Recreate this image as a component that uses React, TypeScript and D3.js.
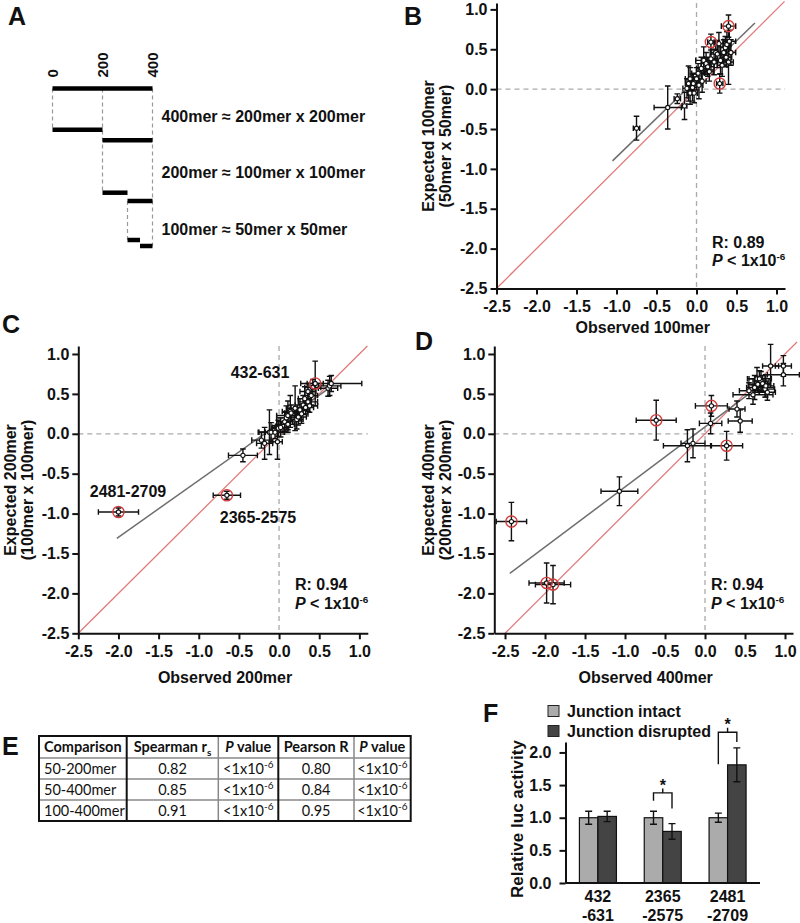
import { useEffect, useRef } from "react";
import * as d3 from "d3";

const FONT = "'Liberation Sans', Arial, Helvetica, sans-serif";
const TABLE_FONT = "Lato, 'Open Sans', sans-serif";

// ---------- A: fragment map ----------
const rulerTicks = [0, 200, 400];
const fragments: [number, number][] = [
  [0, 400], [0, 200], [200, 400], [200, 300], [300, 400], [300, 350], [350, 400],
];
const equations = ["400mer ≈ 200mer x 200mer", "200mer ≈ 100mer x 100mer", "100mer ≈ 50mer x 50mer"];

// ---------- B / C / D: [observed, expected, xErr, yErr] ----------
const bPoints = [
  [-0.75, -0.49, 0.04, 0.15], [-0.36, -0.23, 0.17, 0.27], [-0.24, -0.12, 0.04, 0.06],
  [-0.15, -0.21, 0.03, 0.17], [-0.12, 0.01, 0.05, 0.12], [-0.1, 0.07, 0.04, 0.22],
  [-0.08, 0.13, 0.06, 0.14], [-0.08, -0.05, 0.03, 0.14], [-0.05, 0.02, 0.05, 0.17],
  [-0.04, 0.07, 0.04, 0.12], [-0.03, -0.05, 0.04, 0.12], [0.0, 0.13, 0.07, 0.14],
  [0.02, 0.2, 0.08, 0.12], [0.03, 0.05, 0.05, 0.17], [0.06, 0.26, 0.06, 0.14],
  [0.07, 0.1, 0.05, 0.14], [0.09, 0.36, 0.1, 0.17], [0.12, 0.32, 0.06, 0.14],
  [0.14, 0.28, 0.08, 0.12], [0.16, 0.22, 0.05, 0.12], [0.18, 0.38, 0.08, 0.14],
  [0.22, 0.34, 0.08, 0.16], [0.24, 0.46, 0.06, 0.14], [0.26, 0.44, 0.09, 0.17],
  [0.28, 0.57, 0.06, 0.14], [0.3, 0.36, 0.07, 0.17], [0.32, 0.3, 0.06, 0.14],
  [0.34, 0.46, 0.07, 0.16], [0.36, 0.52, 0.06, 0.14], [0.38, 0.56, 0.05, 0.16],
  [0.4, 0.34, 0.06, 0.28], [0.41, 0.6, 0.08, 0.14], [0.43, 0.46, 0.06, 0.16],
  [0.37, 0.4, 0.07, 0.12],
];
const bOutliers = [[0.18, 0.59, 0.04, 0.1], [0.4, 0.79, 0.09, 0.14], [0.29, 0.07, 0.04, 0.12]];
const bFit = [[-1.05, -0.9], [0.73, 0.83]];

const cPoints = [
  [-0.45, -0.27, 0.18, 0.08], [-0.22, -0.08, 0.12, 0.1], [-0.18, -0.12, 0.1, 0.2],
  [-0.12, 0.02, 0.14, 0.28], [-0.1, 0.02, 0.15, 0.12], [-0.05, 0.02, 0.12, 0.08],
  [-0.02, -0.1, 0.06, 0.22], [-0.01, 0.07, 0.08, 0.1], [0.02, 0.08, 0.1, 0.12],
  [0.07, 0.15, 0.1, 0.12], [0.09, 0.2, 0.12, 0.15], [0.11, 0.12, 0.08, 0.1],
  [0.11, 0.23, 0.14, 0.18], [0.14, 0.28, 0.1, 0.2], [0.15, 0.26, 0.08, 0.1],
  [0.2, 0.32, 0.1, 0.28], [0.22, 0.18, 0.08, 0.12], [0.24, 0.21, 0.1, 0.1],
  [0.26, 0.3, 0.12, 0.14], [0.28, 0.25, 0.08, 0.12], [0.3, 0.36, 0.1, 0.12],
  [0.32, 0.44, 0.08, 0.15], [0.33, 0.33, 0.1, 0.08], [0.36, 0.4, 0.12, 0.12],
  [0.36, 0.53, 0.1, 0.1], [0.38, 0.35, 0.1, 0.08], [0.4, 0.48, 0.08, 0.12],
  [0.42, 0.58, 0.1, 0.1], [0.61, 0.57, 0.12, 0.1], [0.63, 0.6, 0.14, 0.12],
  [0.65, 0.63, 0.38, 0.1],
];
const cOutliers = [[-2.0, -0.98, 0.25, 0.05], [-0.65, -0.77, 0.17, 0.05], [0.45, 0.63, 0.1, 0.28]];
const cFit = [[-2.02, -1.31], [0.62, 0.57]];
const cLabels = ["432-631", "2481-2709", "2365-2575"];

const dPoints = [
  [-1.07, -0.72, 0.23, 0.18], [-0.22, -0.15, 0.3, 0.2], [-0.15, -0.12, 0.15, 0.18],
  [0.07, 0.13, 0.14, 0.13], [0.4, 0.31, 0.1, 0.1], [0.44, 0.16, 0.15, 0.14],
  [0.55, 0.54, 0.12, 0.1], [0.6, 0.49, 0.25, 0.12], [0.62, 0.58, 0.1, 0.15],
  [0.65, 0.69, 0.1, 0.14], [0.66, 0.62, 0.12, 0.1], [0.7, 0.66, 0.1, 0.12],
  [0.72, 0.63, 0.1, 0.1], [0.75, 0.56, 0.12, 0.1], [0.76, 0.6, 0.1, 0.14],
  [0.78, 0.52, 0.1, 0.1], [0.82, 0.85, 0.1, 0.27], [0.98, 0.85, 0.1, 0.13],
  [0.98, 0.74, 0.2, 0.14], [0.68, 0.69, 0.15, 0.1],
];
const dOutliers = [
  [-2.42, -1.1, 0.19, 0.24], [-1.98, -1.87, 0.22, 0.25], [-1.9, -1.89, 0.22, 0.24],
  [-0.61, 0.17, 0.25, 0.25], [0.08, 0.35, 0.2, 0.13], [0.27, -0.15, 0.2, 0.18],
];
const dFit = [[-2.44, -1.75], [0.55, 0.5]];

const scatterTicks = [-2.5, -2, -1.5, -1, -0.5, 0, 0.5, 1];

// ---------- E: table ----------
const comparisons = ["50-200mer", "50-400mer", "100-400mer"];
const spearman = ["0.82", "0.85", "0.91"];
const pearson = ["0.80", "0.84", "0.95"];

// ---------- F: luciferase ----------
const fGroups = [["432", "-631"], ["2365", "-2575"], ["2481", "-2709"]];
const intact = [1.0, 1.0, 1.0];
const intactErr = [0.1, 0.1, 0.07];
const disrupted = [1.02, 0.79, 1.81];
const disruptedErr = [0.08, 0.12, 0.26];
const fTicks = [0, 0.5, 1, 1.5, 2];
const brackets = [
  { group: 1, top: 1.38, left: 1.26, right: 1.14 },
  { group: 2, top: 2.31, left: 1.82, right: 2.16 },
];
const legendLabels = ["Junction intact", "Junction disrupted"];

const bold = (s: any, size = 16) =>
  s.attr("font-family", FONT).attr("font-weight", "bold").attr("font-size", size).attr("fill", "#111");

function pValue(g: any, x: number, y: number, prefix = " < 1x10", size = 16) {
  const t = bold(g.append("text"), size).attr("x", x).attr("y", y);
  t.append("tspan").attr("font-style", "italic").text("P");
  t.append("tspan").text(prefix);
  t.append("tspan").attr("dy", -6).attr("font-size", size * 0.62).text("-6");
  return t;
}

function scatter(svg: any, cfg: any) {
  const x = d3.scaleLinear().domain(cfg.xDomain).range(cfg.xRange);
  const y = d3.scaleLinear().domain(cfg.yDomain).range(cfg.yRange);
  const g = svg.append("g");
  const [x0, x1] = cfg.xDomain;
  const [y0, y1] = cfg.yDomain;

  g.append("line").attr("x1", x(0)).attr("x2", x(0)).attr("y1", y(y1)).attr("y2", y(y0))
    .attr("stroke", "#aaa").attr("stroke-width", 1.3).attr("stroke-dasharray", "5,4");
  g.append("line").attr("x1", x(x0)).attr("x2", x(x1)).attr("y1", y(0)).attr("y2", y(0))
    .attr("stroke", "#aaa").attr("stroke-width", 1.3).attr("stroke-dasharray", "5,4");

  // identity line
  g.append("line").attr("x1", x(-2.5)).attr("y1", y(-2.5)).attr("x2", x(cfg.idEnd)).attr("y2", y(cfg.idEnd))
    .attr("stroke", "#e07a7a").attr("stroke-width", 1.3);
  // regression line
  g.append("line").attr("x1", x(cfg.fit[0][0])).attr("y1", y(cfg.fit[0][1]))
    .attr("x2", x(cfg.fit[1][0])).attr("y2", y(cfg.fit[1][1]))
    .attr("stroke", "#6e6e6e").attr("stroke-width", 1.5);

  const all = cfg.points.concat(cfg.outliers);
  const c = 2.8;
  g.append("g").selectAll("path").data(all).join("path")
    .attr("d", (d: number[]) => {
      const cx = x(d[0]), cy = y(d[1]);
      const xa = x(d[0] - d[2]), xb = x(d[0] + d[2]);
      const ya = y(d[1] - d[3]), yb = y(d[1] + d[3]);
      return `M${xa},${cy}H${xb}M${xa},${cy - c}V${cy + c}M${xb},${cy - c}V${cy + c}` +
        `M${cx},${ya}V${yb}M${cx - c},${ya}H${cx + c}M${cx - c},${yb}H${cx + c}`;
    })
    .attr("fill", "none").attr("stroke", "#111").attr("stroke-width", 1.4);
  g.append("g").selectAll("circle").data(all).join("circle")
    .attr("cx", (d: number[]) => x(d[0])).attr("cy", (d: number[]) => y(d[1])).attr("r", 2.1)
    .attr("fill", "#fff").attr("stroke", "#111").attr("stroke-width", 1.1);
  g.append("g").selectAll("circle").data(cfg.outliers).join("circle")
    .attr("cx", (d: number[]) => x(d[0])).attr("cy", (d: number[]) => y(d[1])).attr("r", 5.6)
    .attr("fill", "none").attr("stroke", "#d23b3b").attr("stroke-width", 1.4);

  const fmt = (d: number) => d.toFixed(1);
  const xa = g.append("g").attr("transform", `translate(0,${y(y0)})`)
    .call(d3.axisBottom(x).tickValues(scatterTicks).tickFormat(fmt as any).tickSize(6).tickSizeOuter(0).tickPadding(6));
  const ya = g.append("g").attr("transform", `translate(${x(x0)},0)`)
    .call(d3.axisLeft(y).tickValues(scatterTicks).tickFormat(fmt as any).tickSize(6).tickSizeOuter(0).tickPadding(3));
  [xa, ya].forEach((a) => {
    a.select(".domain").attr("stroke", "#111").attr("stroke-width", 2);
    a.selectAll(".tick line").attr("stroke", "#111").attr("stroke-width", 2);
    bold(a.selectAll(".tick text"), 16).attr("font-family", FONT);
  });

  // axis titles
  const xc = (cfg.xRange[0] + cfg.xRange[1]) / 2 + 2;
  bold(g.append("text"), 16).attr("x", xc).attr("y", cfg.xTitleY).attr("text-anchor", "middle").text(cfg.xTitle);
  cfg.yTitle.forEach((t: string, i: number) => {
    bold(g.append("text"), 16).attr("text-anchor", "middle").attr("dominant-baseline", "central")
      .attr("transform", `translate(${cfg.yTitleX[i]},${cfg.yTitleY}) rotate(-90)`).text(t);
  });

  // stats
  bold(g.append("text"), 16).attr("x", cfg.statX).attr("y", cfg.statY).text(cfg.r);
  pValue(g, cfg.statX, cfg.statY + 18.5);

  bold(g.append("text"), 25).attr("x", cfg.letter[0]).attr("y", cfg.letter[1]).text(cfg.letter[2]);
  return { x, y, g };
}

export default function App() {
  const ref = useRef<SVGSVGElement>(null);

  useEffect(() => {
    const svg = d3.select(ref.current);
    svg.selectAll("*").remove();

    // ===== A =====
    bold(svg.append("text"), 25).attr("x", 8).attr("y", 25).text("A");
    const ax = d3.scaleLinear().domain([0, 400]).range([52.5, 152.5]);
    const rowY = [88.5, 129.7, 140.3, 192.7, 201, 240, 246];
    rulerTicks.forEach((t) => {
      bold(svg.append("text"), 15).attr("text-anchor", "start").attr("dominant-baseline", "central")
        .attr("transform", `translate(${ax(t)},77.5) rotate(-90)`).text(String(t));
    });
    const guides: [number, number, number][] = [[0, 0, 1], [200, 0, 3], [400, 0, 6], [300, 4, 5]];
    svg.append("g").selectAll("line").data(guides).join("line")
      .attr("x1", (d) => ax(d[0])).attr("x2", (d) => ax(d[0]))
      .attr("y1", (d) => rowY[d[1]]).attr("y2", (d) => rowY[d[2]])
      .attr("stroke", "#999").attr("stroke-width", 1.2).attr("stroke-dasharray", "4,3");
    svg.append("g").selectAll("line").data(fragments).join("line")
      .attr("x1", (d) => ax(d[0])).attr("x2", (d) => ax(d[1]))
      .attr("y1", (_, i) => rowY[i]).attr("y2", (_, i) => rowY[i])
      .attr("stroke", "#000").attr("stroke-width", 4.5);
    const eqY = [116, 172.7, 229.3];
    equations.forEach((e, i) => {
      bold(svg.append("text"), 16).attr("x", 161.5).attr("y", eqY[i] + 5.7).text(e);
    });

    // ===== B =====
    scatter(svg, {
      xDomain: [-2.5, 1.106], xRange: [496.5, 785], yDomain: [-2.5, 1.08], yRange: [288.5, 3],
      idEnd: 1.1, fit: bFit, points: bPoints, outliers: bOutliers,
      xTitle: "Observed 100mer", xTitleY: 333, yTitle: ["Expected 100mer", "(50mer x 50mer)"],
      yTitleX: [428, 445], yTitleY: 146, statX: 712, statY: 247.5, r: "R: 0.89",
      letter: [404, 24.5, "B"],
    });

    // ===== C =====
    const C = scatter(svg, {
      xDomain: [-2.5, 1.105], xRange: [78.3, 367.8], yDomain: [-2.5, 1.1], yRange: [633.3, 346],
      idEnd: 1.1, fit: cFit, points: cPoints, outliers: cOutliers,
      xTitle: "Observed 200mer", xTitleY: 682.5, yTitle: ["Expected 200mer", "(100mer x 100mer)"],
      yTitleX: [10, 27], yTitleY: 490, statX: 295, statY: 590, r: "R: 0.94",
      letter: [2, 333, "C"],
    });
    const labelPos = [[260, 378], [128, 496.5], [258, 522.5]];
    cLabels.forEach((t, i) => {
      bold(C.g.append("text"), 16).attr("x", labelPos[i][0]).attr("y", labelPos[i][1])
        .attr("text-anchor", "middle").text(t);
    });

    // ===== D =====
    scatter(svg, {
      xDomain: [-2.634, 1.1], xRange: [494.3, 793], yDomain: [-2.5, 1.1], yRange: [633.3, 346],
      idEnd: 1.15, fit: dFit, points: dPoints, outliers: dOutliers,
      xTitle: "Observed 400mer", xTitleY: 682.5, yTitle: ["Expected 400mer", "(200mer x 200mer)"],
      yTitleX: [428, 445], yTitleY: 490, statX: 711, statY: 590, r: "R: 0.94",
      letter: [415, 350, "D"],
    });

    // ===== E =====
    bold(svg.append("text"), 25).attr("x", 2).attr("y", 755).text("E");
    const colX = [39, 126.7, 218.3, 278.3, 354, 410.7];
    const rowYs = [736, 758, 779, 800, 821];
    const tg = svg.append("g").attr("font-family", TABLE_FONT).attr("font-size", 14.5).attr("fill", "#111");
    const cx = (i: number) => (colX[i] + colX[i + 1]) / 2;
    const cy = (r: number) => (rowYs[r] + rowYs[r + 1]) / 2 + 5;
    // header
    const head = (i: number) => tg.append("text").attr("x", cx(i)).attr("y", cy(0)).attr("text-anchor", "middle").attr("font-weight", "bold");
    head(0).text("Comparison");
    const sp = head(1);
    sp.append("tspan").text("Spearman r");
    sp.append("tspan").attr("dy", 4).attr("font-size", 10).text("s");
    [2, 4].forEach((i) => {
      const t = head(i);
      t.append("tspan").attr("font-style", "italic").text("P");
      t.append("tspan").text(" value");
    });
    head(3).text("Pearson R");
    comparisons.forEach((c, r) => {
      tg.append("text").attr("x", colX[0] + 5).attr("y", cy(r + 1)).text(c);
      tg.append("text").attr("x", cx(1)).attr("y", cy(r + 1)).attr("text-anchor", "middle").text(spearman[r]);
      tg.append("text").attr("x", cx(3)).attr("y", cy(r + 1)).attr("text-anchor", "middle").text(pearson[r]);
      [2, 4].forEach((i) => {
        const t = tg.append("text").attr("x", cx(i)).attr("y", cy(r + 1)).attr("text-anchor", "middle");
        t.append("tspan").text("<1x10");
        t.append("tspan").attr("dy", -6).attr("font-size", 10).text("-6");
      });
    });
    rowYs.slice(1, -1).forEach((yy) => {
      svg.append("line").attr("x1", colX[0]).attr("x2", colX[5]).attr("y1", yy).attr("y2", yy)
        .attr("stroke", "#888").attr("stroke-width", 1.3);
    });
    colX.slice(1, -1).forEach((xx, i) => {
      svg.append("line").attr("x1", xx).attr("x2", xx).attr("y1", rowYs[0]).attr("y2", rowYs[4])
        .attr("stroke", i % 2 === 0 ? "#111" : "#888").attr("stroke-width", i % 2 === 0 ? 2 : 1.5);
    });
    svg.append("rect").attr("x", colX[0]).attr("y", rowYs[0]).attr("width", colX[5] - colX[0])
      .attr("height", rowYs[4] - rowYs[0]).attr("fill", "none").attr("stroke", "#111").attr("stroke-width", 2);

    // ===== F =====
    bold(svg.append("text"), 25).attr("x", 483).attr("y", 722).text("F");
    const fx = d3.scaleBand().domain(["0", "1", "2"]).range([565.5, 760]);
    const fy = d3.scaleLinear().domain([0, 2.16]).range([883, 742]);
    const bw = 18.5;
    const fg = svg.append("g");
    const series = [
      { vals: intact, errs: intactErr, fill: "#ababab", off: -bw },
      { vals: disrupted, errs: disruptedErr, fill: "#444", off: 0 },
    ];
    series.forEach((s) => {
      const cxs = (i: number) => fx(String(i))! + fx.bandwidth() / 2 + s.off;
      fg.append("g").selectAll("rect").data(s.vals).join("rect")
        .attr("x", (_, i) => cxs(i)).attr("width", bw)
        .attr("y", (d) => fy(d)).attr("height", (d) => fy(0) - fy(d))
        .attr("fill", s.fill).attr("stroke", "#111").attr("stroke-width", 1.2);
      fg.append("g").selectAll("path").data(s.vals).join("path")
        .attr("d", (d, i) => {
          const m = cxs(i) + bw / 2;
          const a = fy(d + s.errs[i]), b = fy(d - s.errs[i]);
          return `M${m},${a}V${b}M${m - 3.5},${a}H${m + 3.5}M${m - 3.5},${b}H${m + 3.5}`;
        })
        .attr("stroke", "#111").attr("stroke-width", 1.4).attr("fill", "none");
    });
    brackets.forEach((br) => {
      const c0 = fx(String(br.group))! + fx.bandwidth() / 2;
      const l = c0 - bw / 2, r = c0 + bw / 2;
      const t = fy(br.top);
      fg.append("path")
        .attr("d", `M${l},${fy(br.left)}V${t}H${r}V${fy(br.right)}M${c0},${t}V${t - 4.5}`)
        .attr("fill", "none").attr("stroke", "#111").attr("stroke-width", 1.4);
      bold(fg.append("text"), 16).attr("x", c0).attr("y", t - 2).attr("text-anchor", "middle").text("*");
    });
    const fya = fg.append("g").attr("transform", "translate(565.5,0)")
      .call(d3.axisLeft(fy).tickValues(fTicks).tickFormat(((d: number) => d.toFixed(1)) as any).tickSize(6).tickSizeOuter(0).tickPadding(8));
    fya.select(".domain").attr("stroke", "#111").attr("stroke-width", 2);
    fya.selectAll(".tick line").attr("stroke", "#111").attr("stroke-width", 2);
    bold(fya.selectAll(".tick text"), 16).attr("font-family", FONT);
    fg.append("line").attr("x1", 565.5).attr("x2", 760).attr("y1", fy(0)).attr("y2", fy(0))
      .attr("stroke", "#111").attr("stroke-width", 2);
    fGroups.forEach((lines, i) => {
      const c0 = fx(String(i))! + fx.bandwidth() / 2;
      lines.forEach((t, j) => {
        bold(fg.append("text"), 16).attr("x", c0).attr("y", 902 + j * 18.5).attr("text-anchor", "middle").text(t);
      });
    });
    bold(fg.append("text"), 17).attr("text-anchor", "middle").attr("dominant-baseline", "central")
      .attr("transform", "translate(517,819) rotate(-90)").text("Relative luc activity");
    legendLabels.forEach((t, i) => {
      const yy = 711 + i * 20;
      fg.append("rect").attr("x", 548).attr("y", yy - 5.5).attr("width", 11).attr("height", 11)
        .attr("fill", series[i].fill).attr("stroke", "#222").attr("stroke-width", 1);
      bold(fg.append("text"), 16).attr("x", 567).attr("y", yy + 5.7).text(t);
    });
  }, []);

  return (
    <svg ref={ref} width={800} height={923} viewBox="0 0 800 923"
      style={{ position: "absolute", left: 0, top: 0, background: "#fff" }} />
  );
}
